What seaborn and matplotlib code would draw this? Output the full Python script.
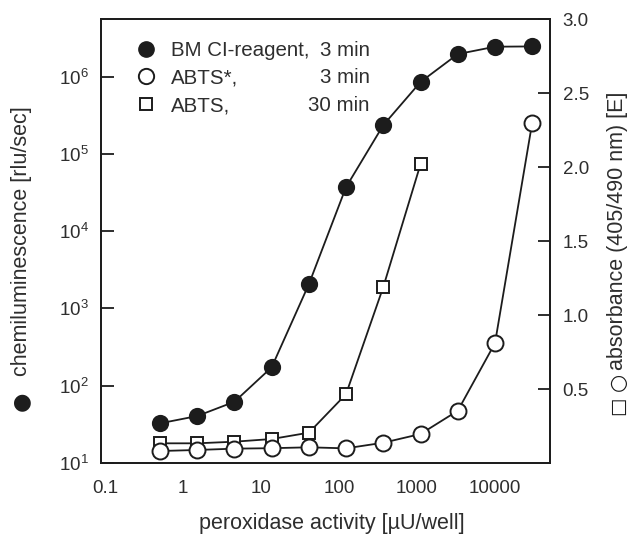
import matplotlib
matplotlib.use('Agg')
import matplotlib.pyplot as plt
import seaborn as sns
from matplotlib.lines import Line2D
from matplotlib.ticker import FixedLocator, NullLocator

# peroxidase activity [uU/well], 3-fold dilution series
activity = [0.508, 1.52, 4.57, 13.7, 41.2, 123, 370, 1111, 3333, 10000, 30000]

# chemiluminescence, BM CI-reagent, 3 min [rlu/sec]
bm_ci = [32.6, 40.5, 62, 173, 2070, 37000, 235000, 850000, 1950000, 2430000, 2450000]

# absorbance 405/490 nm
abts_star_3min = [0.081, 0.088, 0.097, 0.100, 0.106, 0.099, 0.137, 0.196, 0.353, 0.81, 2.30]
abts_30min = [0.133, 0.133, 0.144, 0.162, 0.205, 0.465, 1.19, 2.02]

x_ticks = [0.1, 1, 10, 100, 1000, 10000]
x_tick_labels = ['0.1', '1', '10', '100', '1000', '10000']
left_ticks = [1e1, 1e2, 1e3, 1e4, 1e5, 1e6]
left_tick_labels = [r'$10^{%d}$' % e for e in range(1, 7)]
right_ticks = [0.5, 1.0, 1.5, 2.0, 2.5, 3.0]

legend_names = ['BM CI-reagent,', 'ABTS*,', 'ABTS,']
legend_times = ['3 min', '3 min', '30 min']

sns.set_style('white')
plt.rcParams['font.family'] = ['Liberation Sans', 'DejaVu Sans']
plt.rcParams['mathtext.fontset'] = 'custom'
plt.rcParams['mathtext.rm'] = 'Liberation Sans'
plt.rcParams['mathtext.it'] = 'Liberation Sans:italic'

INK = '#1c1c1c'
TXT = '#2e2e2e'
FS = 13.5
FS_LAB = 15.5
FS_LEG = 14.8

fig = plt.figure(figsize=(6.31, 5.4), dpi=100)
ax = fig.add_axes([101 / 631, 77 / 540, 449 / 631, 444 / 540])
ax2 = ax.twinx()

ax.set_xscale('log')
ax.set_yscale('log')
ax.set_xlim(10 ** -1.051, 10 ** 4.705)
ax.set_ylim(10, 10 ** 6.744)
ax2.set_ylim(0, 3.0)

line_kw = dict(color=INK, linewidth=1.3, markeredgecolor=INK, markeredgewidth=1.4)

sns.lineplot(x=activity, y=bm_ci, ax=ax, marker='o', markersize=11,
             markerfacecolor=INK, errorbar=None, **line_kw)
sns.lineplot(x=activity[:len(abts_30min)], y=abts_30min, ax=ax2, marker='s',
             markersize=9, markerfacecolor='white', errorbar=None, zorder=2, **line_kw)
sns.lineplot(x=activity, y=abts_star_3min, ax=ax2, marker='o', markersize=11.5,
             markerfacecolor='white', errorbar=None, zorder=3, **line_kw)

for a in (ax, ax2):
    for s in a.spines.values():
        s.set_color(INK)
        s.set_linewidth(1.3)
    a.set_ylabel('')
    a.set_xlabel('')

ax.xaxis.set_major_locator(FixedLocator(x_ticks))
ax.set_xticklabels(x_tick_labels)
ax.xaxis.set_minor_locator(NullLocator())
ax.yaxis.set_major_locator(FixedLocator(left_ticks))
ax.set_yticklabels(left_tick_labels)
ax.yaxis.set_minor_locator(NullLocator())
ax2.yaxis.set_major_locator(FixedLocator(right_ticks))
ax2.set_yticklabels(['%.1f' % v for v in right_ticks])
ax2.yaxis.set_minor_locator(NullLocator())

ax.tick_params(axis='both', which='major', direction='in', length=9, width=1.3,
               color=INK, labelcolor=TXT, labelsize=FS, top=False, right=False)
ax.tick_params(axis='x', pad=12)
ax.tick_params(axis='y', pad=9)
ax2.tick_params(axis='y', which='major', direction='in', length=9, width=1.3,
                color=INK, labelcolor=TXT, labelsize=FS, pad=9)

# axis titles
fig.text(332 / 631, 1 - 523 / 540, 'peroxidase activity [µU/well]', ha='center',
         va='center', fontsize=FS_LAB, color=TXT)
fig.text(22 / 631, 1 - 241 / 540, 'chemiluminescence [rlu/sec]', ha='center',
         va='center', rotation=90, fontsize=FS_LAB, color=TXT)
fig.text(21 / 631, 1 - 401 / 540, '●', ha='center', va='center', rotation=90,
         fontsize=16, color=INK, family='DejaVu Sans')
fig.text(618 / 631, 1 - 231 / 540, 'absorbance (405/490 nm) [E]', ha='center',
         va='center', rotation=90, fontsize=FS_LAB, color=TXT)
fig.text(618 / 631, 1 - 382 / 540, '○', ha='center', va='center', rotation=90,
         fontsize=15, color=INK, family='DejaVu Sans')
fig.text(618 / 631, 1 - 406 / 540, '□', ha='center', va='center', rotation=90,
         fontsize=14, color=INK, family='DejaVu Sans')

# legend
handles = [
    Line2D([], [], linestyle='none', marker='o', markersize=11, markerfacecolor=INK,
           markeredgecolor=INK),
    Line2D([], [], linestyle='none', marker='o', markersize=11, markerfacecolor='white',
           markeredgecolor=INK, markeredgewidth=1.4),
    Line2D([], [], linestyle='none', marker='s', markersize=9, markerfacecolor='white',
           markeredgecolor=INK, markeredgewidth=1.4),
]
leg = ax2.legend(handles, legend_names, loc='upper left', bbox_to_anchor=(0.079, 0.951),
                 frameon=False, fontsize=FS_LEG, handlelength=0.9, handletextpad=0.8,
                 labelspacing=0.42, borderpad=0, borderaxespad=0)
for t in leg.get_texts():
    t.set_color(TXT)
for t, yy in zip(legend_times, [0.930, 0.869, 0.806]):
    ax2.text(0.599, yy, t, transform=ax2.transAxes, ha='right', va='center',
             fontsize=FS_LEG, color=TXT)

fig.savefig('out.png', dpi=100, facecolor='white')
